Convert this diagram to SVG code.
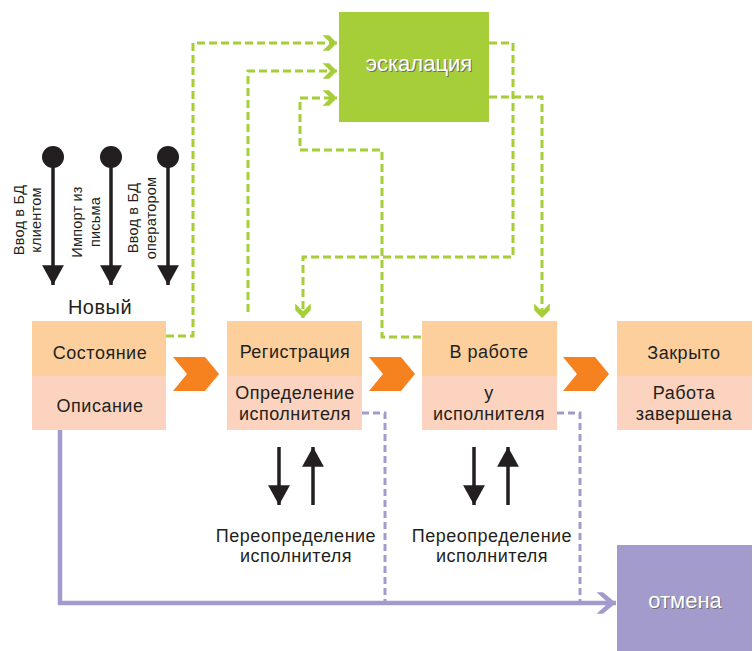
<svg xmlns="http://www.w3.org/2000/svg" width="755" height="651" viewBox="0 0 755 651">
<style>
.t{font-family:"Liberation Sans",Arial,sans-serif;font-size:18px;letter-spacing:0.5px;fill:#231F20;text-anchor:middle}
.s{font-size:14.5px;letter-spacing:0.2px}
.w{font-family:"Liberation Sans",Arial,sans-serif;font-size:22px;text-anchor:middle;fill:#fff}
.sh{font-family:"Liberation Sans",Arial,sans-serif;font-size:22px;text-anchor:middle;fill:#6d6d6d}
.top{fill:#FCCF9C}
.bot{fill:#FBD3BE}
.g{fill:none;stroke:#A6CE39;stroke-width:3;stroke-dasharray:8 4}
.pd{fill:none;stroke:#A39BCB;stroke-width:3;stroke-dasharray:7 4}
.chev{fill:#F5821F}
.blk{stroke:#231F20;stroke-width:3.5;fill:none}
</style>
<defs>
<marker id="gm" markerUnits="userSpaceOnUse" markerWidth="20" markerHeight="20" viewBox="-14 -9 16 18" refX="0" refY="0" orient="auto">
<path d="M-13,-7 L-7,-7 L0,0 L-7,7 L-13,7 L-6,0 Z" fill="#A6CE39"/>
</marker>
<marker id="pm" markerUnits="userSpaceOnUse" markerWidth="24" markerHeight="26" viewBox="-20 -12 22 24" refX="0" refY="0" orient="auto">
<path d="M-18,-10 L-12,-10 L0,0 L-12,10 L-18,10 L-7,0 Z" fill="#A39BCB"/>
</marker>
<marker id="bm" markerUnits="userSpaceOnUse" markerWidth="24" markerHeight="24" viewBox="-20 -11 22 22" refX="0" refY="0" orient="auto">
<path d="M-18,-10 L0,0 L-18,10 Z" fill="#231F20"/>
</marker>
</defs>

<g id="connectors">
<path class="g" d="M166,336 H193 V43 H337" marker-end="url(#gm)"/>
<path class="g" d="M248,312 V71 H337" marker-end="url(#gm)"/>
<path class="g" d="M421,337 H382 V150 H300 V98 H337" marker-end="url(#gm)"/>
<path class="g" d="M489,43 H513 V257 H303 V318" marker-end="url(#gm)"/>
<path class="g" d="M489,97 H542 V318" marker-end="url(#gm)"/>
<path class="pd" d="M362,413 H385 V603"/>
<path class="pd" d="M557,413 H580 V603"/>
<path d="M60,430 V603 H616" fill="none" stroke="#A39BCB" stroke-width="4.5" marker-end="url(#pm)"/>
<path class="chev" d="M173,357 H205 L219,374 L205,391 H173 L187,374 Z"/>
<path class="chev" d="M369,357 H401 L415,374 L401,391 H369 L383,374 Z"/>
<path class="chev" d="M563,357 H595 L609,374 L595,391 H563 L577,374 Z"/>
<line class="blk" x1="279" y1="447" x2="279" y2="505" marker-end="url(#bm)"/>
<line class="blk" x1="313" y1="505" x2="313" y2="447" marker-end="url(#bm)"/>
<line class="blk" x1="474" y1="447" x2="474" y2="505" marker-end="url(#bm)"/>
<line class="blk" x1="508" y1="505" x2="508" y2="447" marker-end="url(#bm)"/>
</g>

<g id="input1">
<circle cx="53" cy="157" r="11" fill="#231F20"/>
<line class="blk" x1="53" y1="160" x2="53" y2="285" marker-end="url(#bm)"/>
<text class="t s" transform="translate(24,220) rotate(-90)">Ввод в БД</text>
<text class="t s" transform="translate(41,220) rotate(-90)">клиентом</text>
</g>
<g id="input2">
<circle cx="111" cy="157" r="11" fill="#231F20"/>
<line class="blk" x1="111" y1="160" x2="111" y2="285" marker-end="url(#bm)"/>
<text class="t s" transform="translate(82,222) rotate(-90)">Импорт из</text>
<text class="t s" transform="translate(100,222) rotate(-90)">письма</text>
</g>
<g id="input3">
<circle cx="168" cy="157" r="11" fill="#231F20"/>
<line class="blk" x1="168" y1="160" x2="168" y2="285" marker-end="url(#bm)"/>
<text class="t s" transform="translate(138,218) rotate(-90)">Ввод в БД</text>
<text class="t s" transform="translate(156,218) rotate(-90)">оператором</text>
</g>

<g id="escalation">
<rect x="339" y="12" width="150" height="110" fill="#A6CE39"/>
<text class="sh" x="420" y="72">эскалация</text>
<text class="w" x="419" y="71">эскалация</text>
</g>

<g id="new">
<text class="t" x="100" y="314" style="font-size:20px">Новый</text>
<rect class="top" x="32" y="321" width="134" height="55"/>
<rect class="bot" x="32" y="376" width="134" height="54"/>
<text class="t" x="100" y="359">Состояние</text>
<text class="t" x="100" y="412">Описание</text>
</g>

<g id="registration">
<rect class="top" x="227" y="321" width="135" height="55"/>
<rect class="bot" x="227" y="376" width="135" height="54"/>
<text class="t" x="295" y="358">Регистрация</text>
<text class="t" x="295" y="399">Определение</text>
<text class="t" x="295" y="420">исполнителя</text>
</g>

<g id="inwork">
<rect class="top" x="422" y="321" width="135" height="55"/>
<rect class="bot" x="422" y="376" width="135" height="54"/>
<text class="t" x="489" y="358">В работе</text>
<text class="t" x="489" y="399">у</text>
<text class="t" x="489" y="420">исполнителя</text>
</g>

<g id="closed">
<rect class="top" x="617" y="321" width="135" height="55"/>
<rect class="bot" x="617" y="376" width="135" height="54"/>
<text class="t" x="684" y="359">Закрыто</text>
<text class="t" x="684" y="399">Работа</text>
<text class="t" x="684" y="420">завершена</text>
</g>

<g id="reassign1">
<text class="t" x="296" y="542">Переопределение</text>
<text class="t" x="296" y="562">исполнителя</text>
</g>
<g id="reassign2">
<text class="t" x="492" y="542">Переопределение</text>
<text class="t" x="492" y="562">исполнителя</text>
</g>

<g id="cancel">
<rect x="617" y="545" width="135" height="106" fill="#A39BCB"/>
<text class="sh" x="686" y="609">отмена</text>
<text class="w" x="685" y="608">отмена</text>
</g>
</svg>
